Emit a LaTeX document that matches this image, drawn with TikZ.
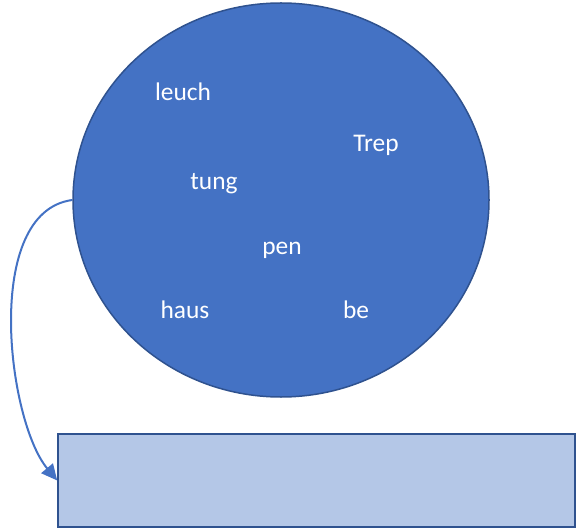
\documentclass[tikz,border=0pt]{standalone}
\usepackage{xcolor}
\definecolor{4472c4}{HTML}{4472C4}
\definecolor{2f528f}{HTML}{2F528F}
\definecolor{b4c7e7}{HTML}{B4C7E7}
\usepackage{fontspec}
\setmainfont{Carlito}
\usepackage{tikz}
\usetikzlibrary{shapes.geometric}
\usetikzlibrary{arrows.meta}

\begin{document}
\begin{tikzpicture}[x=1bp, y=-1bp,
            syllable/.style={text=white, anchor=base, inner sep=0, font=\fontsize{25.5}{30}\selectfont}]
            \useasboundingbox (0, 0) rectangle (576, 531);

            \node (circ) [ellipse, draw=2f528f, fill=4472c4, line width=1.5bp, inner sep=0,
                minimum width=416bp, minimum height=394bp] at (281, 200) {};
            \node (box) [rectangle, draw=2f528f, fill=b4c7e7, line width=1.5bp, inner sep=0,
                minimum width=517bp, minimum height=93bp] at (316.5, 480.5) {};

            \node (leuch) [syllable] at (183, 101) {leuch};
            \node (trep) [syllable] at (376, 152) {Trep};
            \node (tung) [syllable] at (214, 190) {tung};
            \node (pen) [syllable] at (282, 254) {pen};
            \node (haus) [syllable] at (185, 318) {haus};
            \node (be) [syllable] at (356, 318) {be};

            %\draw [color=4472c4, ->] (circ.west) to [out=180, in=130] (box.west);
            \draw [color=4472c4, line width=2bp, -{Triangle[length=16bp, width=15bp]}]
                (circ.west) .. controls +(-90, 12) and +(-50, -60) .. (box.west);
        \end{tikzpicture}
\end{document}
